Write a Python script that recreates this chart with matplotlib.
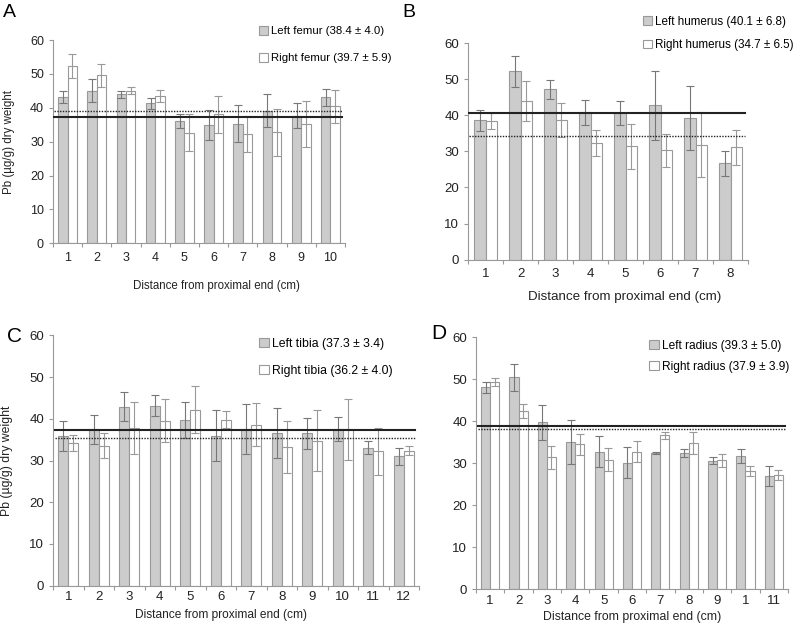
import matplotlib
matplotlib.use('Agg')
import matplotlib.pyplot as plt
import numpy as np
from matplotlib.patches import Patch

plt.rcParams['font.family'] = ['Liberation Sans', 'DejaVu Sans']

# panel A - femur
A_left = [43.2, 45.1, 44.0, 41.3, 36.1, 34.9, 35.3, 39.2, 37.7, 43.1]
A_left_err = [1.8, 3.4, 1.0, 1.5, 2.2, 4.4, 5.5, 5.0, 3.7, 2.6]
A_right = [52.3, 49.6, 45.1, 43.4, 32.7, 38.1, 32.3, 32.8, 35.1, 40.4]
A_right_err = [3.6, 3.4, 1.1, 1.8, 5.5, 5.4, 5.3, 6.9, 6.8, 4.9]
A_ticks = ['1', '2', '3', '4', '5', '6', '7', '8', '9', '10']
A_lines = [37.2, 39.1]
A_names = ['Left femur (38.4 ± 4.0)', 'Right femur (39.7 ± 5.9)']

# panel B - humerus
B_left = [38.6, 52.2, 47.2, 40.8, 40.6, 42.8, 39.3, 26.7]
B_left_err = [3.0, 4.3, 2.7, 3.4, 3.4, 9.6, 8.9, 3.4]
B_right = [38.4, 44.0, 38.7, 32.3, 31.4, 30.3, 31.8, 31.1]
B_right_err = [2.2, 5.5, 4.6, 3.7, 6.2, 4.5, 9.0, 4.8]
B_ticks = ['1', '2', '3', '4', '5', '6', '7', '8']
B_lines = [40.6, 34.2]
B_names = ['Left humerus (40.1 ± 6.8)', 'Right humerus (34.7 ± 6.5)']

# panel C - tibia
C_left = [36.0, 37.5, 42.9, 43.1, 39.8, 36.0, 37.5, 36.5, 36.5, 37.6, 33.1, 31.0]
C_left_err = [3.6, 3.5, 3.5, 2.5, 4.3, 6.0, 6.0, 6.0, 3.8, 2.9, 1.5, 2.1]
C_right = [34.3, 33.6, 37.8, 39.6, 42.2, 39.8, 38.6, 33.2, 34.8, 37.5, 32.2, 32.4]
C_right_err = [1.9, 3.0, 6.3, 5.1, 5.6, 2.0, 5.1, 6.3, 7.3, 7.3, 5.6, 1.0]
C_ticks = ['1', '2', '3', '4', '5', '6', '7', '8', '9', '10', '11', '12']
C_lines = [37.3, 35.5]
C_names = ['Left tibia (37.3 ± 3.4)', 'Right tibia (36.2 ± 4.0)']

# panel D - radius
D_left = [48.1, 50.5, 39.8, 35.1, 32.8, 30.2, 32.5, 32.4, 30.6, 31.7, 27.0]
D_left_err = [1.3, 3.2, 4.2, 5.3, 3.6, 3.6, 0.3, 1.0, 0.8, 1.7, 2.4]
D_right = [49.3, 42.5, 31.4, 34.5, 30.9, 32.8, 36.7, 34.8, 30.7, 28.2, 27.2]
D_right_err = [0.9, 1.7, 2.7, 2.6, 2.8, 2.5, 0.8, 2.6, 1.6, 1.1, 1.2]
D_ticks = ['1', '2', '3', '4', '5', '6', '7', '8', '9', '1', '11']
D_lines = [39.0, 38.1]
D_names = ['Left radius (39.3 ± 5.0)', 'Right radius (37.9 ± 3.9)']

grey = '#cccccc'
edge = '#999999'


def panel(fig, rect, left, lerr, right, rerr, ticks, lines, names,
          fs, pad, xlab_pos, ylab_pos, leg_pos, leg_fs, leg_sp):
    ax = fig.add_axes(rect)
    n = len(left)
    x = np.arange(n)
    w = 0.32
    ax.bar(x - w / 2, left, w, color=grey, edgecolor=edge, linewidth=0.8, zorder=2)
    ax.bar(x + w / 2, right, w, color='white', edgecolor=edge, linewidth=0.8, zorder=2)
    ax.errorbar(x - w / 2, left, yerr=lerr, fmt='none', ecolor='#777777',
                elinewidth=0.8, capsize=3, capthick=0.8, zorder=3)
    ax.errorbar(x + w / 2, right, yerr=rerr, fmt='none', ecolor='#999999',
                elinewidth=0.8, capsize=3, capthick=0.8, zorder=3)
    ax.axhline(lines[0], xmin=0.005, xmax=0.99, color='#222222', lw=1.5, zorder=4)
    ax.axhline(lines[1], xmin=0.005, xmax=0.99, color='#222222', lw=1.0,
               ls=(0, (1, 1)), zorder=4)
    ax.set_xlim(-0.5, n - 0.5)
    ax.set_ylim(0, 60)
    ax.set_yticks(range(0, 61, 10))
    ax.set_xticks(np.arange(n + 1) - 0.5)
    ax.set_xticklabels([])
    ax.set_xticks(x, minor=True)
    ax.set_xticklabels(ticks, minor=True)
    ax.tick_params(axis='x', which='major', length=3, color=edge)
    ax.tick_params(axis='x', which='minor', length=0, pad=pad, labelsize=fs, labelcolor='#222222')
    ax.tick_params(axis='y', length=3, color=edge, labelsize=fs, labelcolor='#222222')
    for s in ['top', 'right']:
        ax.spines[s].set_visible(False)
    for s in ['left', 'bottom']:
        ax.spines[s].set_color(edge)
        ax.spines[s].set_linewidth(0.8)
    ax.set_xlabel('Distance from proximal end (cm)', fontsize=xlab_pos[2], color='#222222')
    ax.xaxis.set_label_coords(xlab_pos[0], xlab_pos[1])
    if ylab_pos is not None:
        ax.set_ylabel('Pb (µg/g) dry weight', fontsize=ylab_pos[2], color='#222222')
        ax.yaxis.set_label_coords(ylab_pos[0], ylab_pos[1])
    handles = [Patch(facecolor=grey, edgecolor=edge, lw=0.8),
               Patch(facecolor='white', edgecolor=edge, lw=0.8)]
    ax.legend(handles, names, loc='upper left', bbox_to_anchor=leg_pos,
              bbox_transform=fig.transFigure, frameon=False, fontsize=leg_fs,
              handlelength=0.8, handleheight=0.8, handletextpad=0.25,
              borderpad=0, borderaxespad=0, labelspacing=leg_sp)
    return ax


fig = plt.figure(figsize=(8, 6.27), dpi=100)

panel(fig, [53 / 800, 0.612, 292 / 800, 0.324], A_left, A_left_err, A_right, A_right_err,
      A_ticks, A_lines, A_names, 9, 6, (0.56, -0.18, 8.3), (-0.13, 0.5, 8.3),
      (259 / 800, 1 - 26 / 627), 8.2, 1.45)
panel(fig, [468 / 800, 0.586, 280 / 800, 0.345], B_left, B_left_err, B_right, B_right_err,
      B_ticks, B_lines, B_names, 9.5, 6, (0.56, -0.145, 9.6), None,
      (643 / 800, 1 - 16 / 627), 8.4, 0.95)
panel(fig, [53 / 800, 0.066, 366 / 800, 0.399], C_left, C_left_err, C_right, C_right_err,
      C_ticks, C_lines, C_names, 9.5, 4, (0.46, -0.095, 8.6), (-0.11, 0.5, 8.8),
      (259 / 800, 1 - 338 / 627), 8.8, 1.2)
panel(fig, [476 / 800, 0.060, 312 / 800, 0.402], D_left, D_left_err, D_right, D_right_err,
      D_ticks, D_lines, D_names, 9.5, 4, (0.50, -0.085, 8.8), None,
      (649 / 800, 1 - 340 / 627), 8.6, 0.75)

fig.text(3 / 800, 1 - 4 / 627, 'A', fontsize=14, va='top', ha='left')
fig.text(402 / 800, 1 - 4 / 627, 'B', fontsize=14, va='top', ha='left')
fig.text(7 / 800, 1 - 327 / 627, 'C', fontsize=15, va='top', ha='left')
fig.text(431 / 800, 1 - 324 / 627, 'D', fontsize=15, va='top', ha='left')

fig.savefig('out.png', dpi=100)
